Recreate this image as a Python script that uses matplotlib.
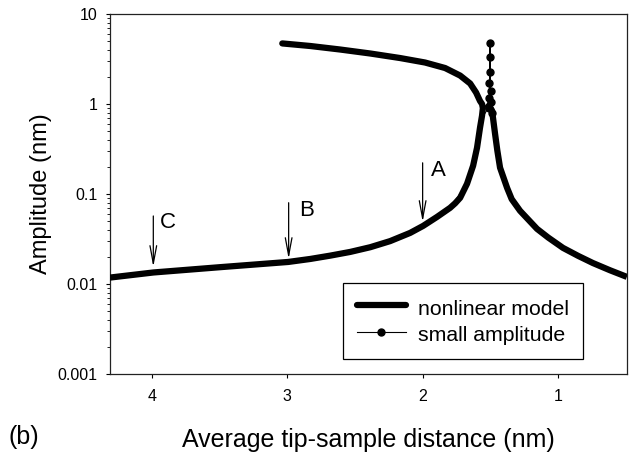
import numpy as np
import matplotlib
matplotlib.use("Agg")
import matplotlib.pyplot as plt
from matplotlib.ticker import LogLocator, NullFormatter, FixedLocator

plt.rcParams['font.family'] = ['Liberation Sans', 'DejaVu Sans']

# nonlinear model: lower branch -> nose -> upper branch
nl_x1 = [4.306, 3.989, 3.494, 2.993, 2.830, 2.683, 2.535, 2.387, 2.240, 2.092, 1.996,
         1.893, 1.797, 1.760, 1.723, 1.672, 1.627, 1.598, 1.576, 1.561, 1.555, 1.561,
         1.576, 1.605, 1.649, 1.723, 1.834, 1.982, 2.166, 2.387, 2.609, 2.830, 3.037]
nl_y1 = [0.01181, 0.01343, 0.01539, 0.01758, 0.01898, 0.02066, 0.02272, 0.02563,
         0.02997, 0.03698, 0.04425, 0.05574, 0.0702, 0.07878, 0.0907, 0.1299, 0.2061,
         0.3269, 0.546, 0.743, 0.90, 1.00, 1.08, 1.34, 1.69, 2.07, 2.51, 2.89, 3.24,
         3.64, 4.03, 4.41, 4.71]
# nonlinear model: right branch
nl_x2 = [1.53, 1.505, 1.487, 1.465, 1.448, 1.428, 1.376, 1.342, 1.280, 1.155, 1.072,
         0.963, 0.850, 0.742, 0.616, 0.491]
nl_y2 = [1.0, 0.93, 0.845, 0.468, 0.303, 0.196, 0.117, 0.0877, 0.065, 0.041, 0.0328,
         0.0252, 0.0205, 0.0171, 0.01422, 0.0120]

# small amplitude (linear) response
sa_x = [1.797, 1.672, 1.598, 1.576, 1.561, 1.513, 1.509, 1.506, 1.5035, 1.502,
        1.5005, 1.498, 1.495, 1.491, 1.480, 1.465, 1.448, 1.428, 1.376, 1.280]
sa_y = [0.0702, 0.130, 0.327, 0.546, 0.70, 0.91, 1.18, 1.73, 3.30, 4.71,
        2.25, 1.41, 1.04, 0.80, 0.60, 0.468, 0.303, 0.196, 0.117, 0.065]

# arrows (x, top, tip) and labels
arrow_labels = ['A', 'B', 'C']
arrow_x = [2.00, 2.99, 3.99]
arrow_top = [0.222, 0.080, 0.057]
arrow_tip = [0.049, 0.019, 0.0155]
label_x = [1.886, 2.86, 3.886]
label_y = [0.181, 0.065, 0.0478]

xticks = [4, 3, 2, 1]
yticks = [0.001, 0.01, 0.1, 1, 10]
yticklabels = ['0.001', '0.01', '0.1', '1', '10']

fig = plt.figure(figsize=(6.34, 4.55), dpi=100)
ax = fig.add_axes([110/634, 1-374/455, (627-110)/634, (374-14)/455])

dot_idx = [i for i, v in enumerate(sa_y) if v >= 0.75]
sa_line, = ax.plot(sa_x, sa_y, color='black', lw=0.8, marker='o', markersize=5,
                   markevery=dot_idx, label='small amplitude', zorder=2)
l1, = ax.plot(nl_x1, nl_y1, color='black', lw=4.5, solid_capstyle='round',
              solid_joinstyle='round', label='nonlinear model', zorder=3)
ax.plot(nl_x2, nl_y2, color='black', lw=4.5, solid_capstyle='butt',
        solid_joinstyle='round', zorder=3)

ax.set_yscale('log')
ax.set_xlim(4.31, 0.49)
ax.set_ylim(0.001, 10)
ax.xaxis.set_major_locator(FixedLocator(xticks))
ax.set_xticklabels([str(t) for t in xticks])
ax.yaxis.set_major_locator(FixedLocator(yticks))
ax.set_yticklabels(yticklabels)
ax.yaxis.set_minor_locator(LogLocator(base=10, subs=np.arange(2, 10)))
ax.yaxis.set_minor_formatter(NullFormatter())
ax.tick_params(axis='both', which='major', direction='out', length=3, width=0.8,
               labelsize=11.5)
ax.tick_params(axis='x', pad=8)
ax.tick_params(axis='y', pad=6)
ax.tick_params(axis='y', which='minor', direction='out', length=2, width=0.6)
for s in ax.spines.values():
    s.set_linewidth(0.9)
    s.set_color('#222222')

ax.set_xlabel('Average tip-sample distance (nm)', fontsize=18, labelpad=17)
ax.set_ylabel('Amplitude (nm)', fontsize=17, labelpad=4)
fig.text(0.013, 1-437/455, '(b)', fontsize=18, va='center', ha='left')

for lab, xa, yt, yp, lx, ly in zip(arrow_labels, arrow_x, arrow_top, arrow_tip, label_x, label_y):
    ax.annotate('', xy=(xa, yp), xytext=(xa, yt),
                arrowprops=dict(arrowstyle='->,head_length=0.8,head_width=0.15',
                                color='black', lw=0.9, shrinkA=0, shrinkB=0,
                                mutation_scale=16))
    ax.text(lx, ly, lab, fontsize=16, ha='center', va='center')

leg = ax.legend([l1, sa_line], ['nonlinear model', 'small amplitude'],
                loc='lower right', bbox_to_anchor=(0.915, 0.042),
                fontsize=15.3, frameon=True, fancybox=False, framealpha=1,
                edgecolor='black', handlelength=2.3, handletextpad=0.6,
                handleheight=1.25, borderpad=0.64, labelspacing=0.19,
                numpoints=1, borderaxespad=0)
leg.get_frame().set_linewidth(0.9)

fig.savefig('out.png', dpi=100)
